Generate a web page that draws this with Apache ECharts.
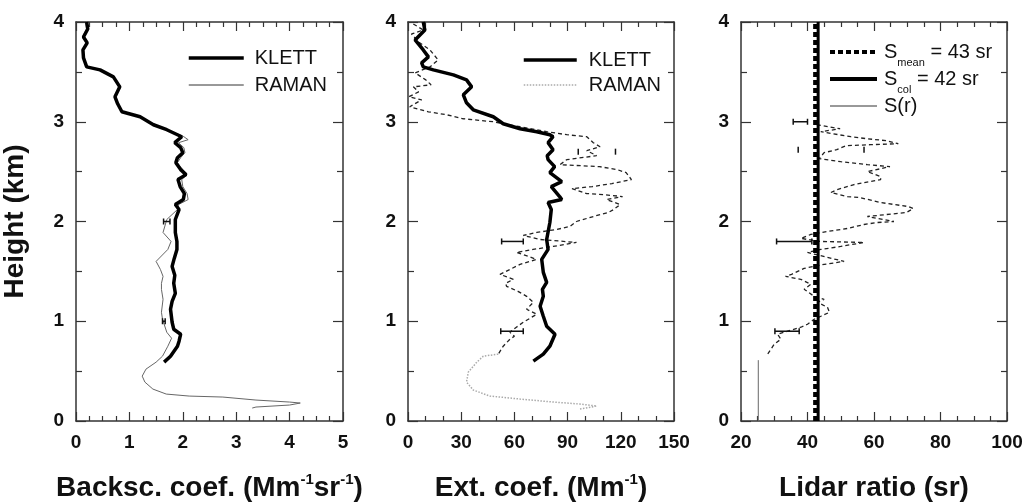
<!DOCTYPE html>
<html><head><meta charset="utf-8">
<script src="https://cdn.jsdelivr.net/npm/echarts@6/dist/echarts.min.js"></script>
<style>html,body{margin:0;padding:0;background:#fff}#c{width:1027px;height:504px}</style>
</head><body><div id="c"></div>
<script>
const FONT = "'Liberation Sans', Arial, Helvetica, sans-serif";

// ---------- Panel 1: backscatter coefficient ----------
const klett1Height = [4.00,3.93,3.85,3.79,3.72,3.64,3.55,3.52,3.45,3.35,3.25,3.18,3.10,3.05,2.97,2.92,2.85,2.79,2.74,2.69,2.64,2.59,2.52,2.47,2.42,2.35,2.28,2.22,2.17,2.12,2.02,1.89,1.80,1.72,1.63,1.55,1.46,1.38,1.28,1.20,1.12,0.99,0.92,0.87,0.80,0.75,0.65,0.59];
const klett1Value  = [0.20,0.22,0.14,0.21,0.13,0.14,0.20,0.45,0.70,0.82,0.73,0.78,0.86,1.20,1.45,1.70,1.98,1.85,1.96,2.00,1.90,1.87,1.96,2.06,1.91,1.95,2.03,2.01,1.86,1.93,1.86,1.86,1.89,1.89,1.84,1.80,1.85,1.83,1.86,1.80,1.77,1.80,1.83,1.96,1.93,1.90,1.77,1.65];
const raman1Height = [4.00,3.93,3.85,3.79,3.72,3.64,3.55,3.52,3.45,3.35,3.25,3.18,3.10,3.05,2.97,2.92,2.85,2.82,2.79,2.74,2.69,2.64,2.59,2.52,2.47,2.42,2.35,2.28,2.22,2.17,2.12,2.02,1.89,1.80,1.72,1.60,1.52,1.45,1.38,1.32,1.22,1.09,1.02,0.89,0.83,0.75,0.65,0.59,0.52,0.45,0.39,0.32,0.27,0.25,0.24,0.21,0.19,0.18,0.16,0.14,0.13];
const raman1Value  = [0.18,0.20,0.12,0.20,0.12,0.13,0.19,0.42,0.68,0.84,0.72,0.77,0.85,1.18,1.44,1.72,2.02,2.10,1.92,2.02,2.04,1.96,1.90,2.00,2.08,1.98,2.00,2.08,2.10,1.92,1.90,1.70,1.63,1.78,1.72,1.50,1.58,1.63,1.60,1.60,1.63,1.60,1.62,1.70,1.79,1.72,1.62,1.50,1.31,1.24,1.29,1.44,1.69,2.12,2.75,3.37,4.00,4.20,4.00,3.37,3.30];
const err1 = [[2.0,1.64,1.76],[1.0,1.62,1.67]]; // [height, low, high]

// ---------- Panel 2: extinction coefficient ----------
const klett2Height = [4.00,3.92,3.82,3.72,3.65,3.59,3.55,3.52,3.47,3.42,3.35,3.27,3.19,3.12,3.05,2.98,2.93,2.90,2.87,2.85,2.79,2.72,2.66,2.62,2.55,2.49,2.40,2.35,2.25,2.22,2.19,2.12,1.99,1.82,1.72,1.62,1.49,1.39,1.32,1.25,1.15,1.05,0.95,0.87,0.75,0.67,0.60];
const klett2Value  = [8.6,9.5,4.0,8.6,11.5,7.7,8.6,14.3,25.6,33.0,35.9,31.2,33.0,36.8,48.1,53.7,63.2,72.6,80.0,81.8,79.0,81.8,78.5,79.0,82.7,80.0,86.7,80.8,85.5,86.7,79.0,80.8,80.0,78.2,79.0,75.4,76.3,78.2,75.8,76.3,74.5,76.3,78.2,82.9,80.0,76.3,70.7];
const raman2Height = [3.98,3.92,3.88,3.80,3.72,3.62,3.55,3.49,3.42,3.37,3.35,3.30,3.25,3.22,3.15,3.10,3.07,3.03,3.00,2.95,2.90,2.87,2.85,2.79,2.75,2.71,2.66,2.62,2.57,2.55,2.52,2.49,2.42,2.38,2.35,2.33,2.28,2.27,2.25,2.22,2.17,2.12,2.09,2.05,2.00,1.95,1.92,1.89,1.86,1.82,1.79,1.75,1.72,1.69,1.65,1.62,1.57,1.52,1.47,1.42,1.38,1.35,1.30,1.25,1.19,1.12,1.07,0.99,0.94,0.89,0.85,0.82,0.75,0.67];
const raman2Value  = [3.0,8.6,2.0,6.0,12.4,17.0,12.4,4.0,10.0,13.0,3.0,6.0,0.5,7.7,1.0,11.5,21.8,31.2,48.1,63.2,78.2,89.5,100.8,104.5,108.3,100.8,106.4,89.5,85.7,108.0,118.0,123.0,126.0,115.0,104.0,92.5,100.8,110.0,121.0,112.0,119.6,116.0,112.9,104.5,95.0,91.3,83.8,72.6,65.0,74.5,95.0,81.8,70.5,61.1,68.0,72.4,63.2,57.5,51.9,59.4,55.0,55.6,62.0,66.9,70.7,66.9,72.6,65.0,61.1,57.5,60.0,57.5,53.7,50.9];
const raman2LowHeight = [0.67,0.65,0.59,0.49,0.39,0.31,0.25,0.22,0.19,0.17,0.15,0.12];
const raman2LowValue  = [50.9,42.5,38.8,34.0,33.0,36.8,46.2,63.2,82.0,97.0,106.4,97.0];
const err2 = [[1.8,52.8,65],[0.9,52.3,65]];
const errCaps2 = [[2.7,96,117]];   // error bar whose bar is hidden by the profile

// ---------- Panel 3: lidar ratio ----------
const sMean = 42.3;   // dashed line
const sCol = 43.2;    // solid line
const srHeight = [2.97,2.95,2.93,2.90,2.85,2.83,2.81,2.78,2.77,2.76,2.72,2.69,2.63,2.60,2.57,2.55,2.50,2.45,2.42,2.37,2.32,2.29,2.25,2.24,2.19,2.15,2.13,2.09,2.07,2.05,2.00,1.99,1.97,1.93,1.90,1.87,1.83,1.80,1.79,1.75,1.72,1.69,1.64,1.60,1.57,1.53,1.47,1.45,1.42,1.37,1.32,1.25,1.22,1.19,1.14,1.09,1.05,1.02,0.97,0.94,0.90,0.87,0.82,0.77,0.72,0.67,0.65];
const srValue  = [42.8,46.3,49.8,44,53,57.8,63.8,67.3,59,51.6,48.8,45,43.5,50,58,64.8,58,62,62,54,48.9,47,52,55.8,62,70.3,71.8,69.7,63.8,58,66,61,57,52,46,41,38,44,57,50,44,40,46,51,45,39,35.2,33.4,38,41,39,42,45,43,46,46.6,44,42,40,38,34,31,32,30,29,28,27.5];
const srLowHeight = [0.0,0.61];
const srLowValue  = [25.2,25.2];
const err3 = [[3.0,35.7,40],[1.8,30.7,41.3],[0.9,30.2,37.5]];
const errCaps3 = [[2.72,37.2,57]];

// ---------- axes ----------
const heightTicks = [0,1,2,3,4];
const xRanges = [
  {min:0, max:5, interval:1, minor:4},
  {min:0, max:150, interval:30, minor:3},
  {min:20, max:100, interval:20, minor:4}
];

const zip = (xs, ys) => xs.map((x, i) => [x, ys[i]]);
const AX = '#333';

const supRich = {sup:{fontSize:15, fontWeight:'bold', fontFamily:FONT, color:'#111', verticalAlign:'top', lineHeight:15, padding:[0,0,0,0]}};
const xNames = [
  'Backsc. coef. (Mm{sup|-1}sr{sup|-1})',
  'Ext. coef. (Mm{sup|-1})',
  'Lidar ratio (sr)'
];

const grids = [
  {left:76, right:684, top:22, bottom:83},
  {left:408, right:353, top:22, bottom:83},
  {left:741, right:20, top:22, bottom:83}
].map(g => Object.assign({outerBoundsMode:'none', containLabel:false}, g));

function xAxisDef(i, top) {
  const r = xRanges[i];
  const a = {
    type:'value', gridIndex:i, position: top ? 'top' : 'bottom',
    min:r.min, max:r.max, interval:r.interval,
    axisLine:{show:true, onZero:false, lineStyle:{color:AX, width:1.5}},
    axisTick:{show:true, inside:true, length:9, lineStyle:{color:AX, width:1.2}},
    minorTick:{show:true, splitNumber:r.minor, length:5, lineStyle:{color:AX, width:1.2}},
    splitLine:{show:false}, minorSplitLine:{show:false},
    axisLabel:{show:!top, fontFamily:FONT, fontWeight:'bold', fontSize:19, color:'#111', margin:12}
  };
  if (!top) {
    a.name = xNames[i];
    a.nameLocation = 'middle';
    a.nameGap = 51;
    a.nameTextStyle = {fontFamily:FONT, fontWeight:'bold', fontSize:28, color:'#111', lineHeight:32, rich:supRich};
  }
  return a;
}
function yAxisDef(i, right) {
  const a = {
    type:'value', gridIndex:i, position: right ? 'right' : 'left',
    min:heightTicks[0], max:heightTicks[heightTicks.length-1], interval:1,
    axisLine:{show:true, onZero:false, lineStyle:{color:AX, width:1.5}},
    axisTick:{show:true, inside:true, length:10, lineStyle:{color:AX, width:1.2}},
    minorTick:{show:true, splitNumber:2, length:6, lineStyle:{color:AX, width:1.2}},
    splitLine:{show:false}, minorSplitLine:{show:false},
    axisLabel:{show:!right, fontFamily:FONT, fontWeight:'bold', fontSize:19, color:'#111', margin:12}
  };
  if (!right && i === 0) {
    a.name = 'Height (km)';
    a.nameLocation = 'middle';
    a.nameGap = 47;
    a.nameTextStyle = {fontFamily:FONT, fontWeight:'bold', fontSize:28, color:'#111'};
  }
  return a;
}

function errRender(withBar) {
  return function (params, api) {
    const h = api.value(0), lo = api.value(1), hi = api.value(2);
    const a = api.coord([lo, h]), b = api.coord([hi, h]);
    const c = 3, st = {stroke:'#111', lineWidth:1.5};
    const kids = [
      {type:'line', shape:{x1:a[0], y1:a[1]-c, x2:a[0], y2:a[1]+c}, style:st},
      {type:'line', shape:{x1:b[0], y1:b[1]-c, x2:b[0], y2:b[1]+c}, style:st}
    ];
    if (withBar) kids.push({type:'line', shape:{x1:a[0], y1:a[1], x2:b[0], y2:b[1]}, style:st});
    return {type:'group', children:kids};
  };
}
function errSeries(i, data, withBar) {
  return {type:'custom', xAxisIndex:i, yAxisIndex:i, data:data, renderItem:errRender(withBar),
    encode:{x:[1,2], y:0}, z:4, silent:true};
}
function lineSeries(name, i, data, ls, z) {
  return {type:'line', name:name, xAxisIndex:i, yAxisIndex:i, data:data, symbol:'none',
    lineStyle:ls, itemStyle:{color:ls.color, opacity:0}, z:z || 2, silent:true, animation:false, clip:true};
}

const series = [
  lineSeries('RAMAN', 0, zip(raman1Value, raman1Height), {color:'#666', width:1}, 2),
  lineSeries('KLETT', 0, zip(klett1Value, klett1Height), {color:'#000', width:3.5}, 3),
  errSeries(0, err1, true),

  lineSeries('RAMAN2', 1, zip(raman2LowValue, raman2LowHeight), {color:'#aaa', width:1.5, type:'dotted'}, 2),
  lineSeries('RAMAN2u', 1, zip(raman2Value, raman2Height), {color:'#222', width:1.3, type:[4,3]}, 2),
  lineSeries('KLETT', 1, zip(klett2Value, klett2Height), {color:'#000', width:3.5}, 3),
  errSeries(1, err2, true),
  errSeries(1, errCaps2, false),

  lineSeries('Smean', 2, [[sMean, heightTicks[0]], [sMean, heightTicks[4]]], {color:'#000', width:4, type:[5,3]}, 3),
  lineSeries('Scol', 2, [[sCol, heightTicks[0]], [sCol, heightTicks[4]]], {color:'#000', width:3}, 3),
  lineSeries('S(r)', 2, zip(srValue, srHeight), {color:'#222', width:1.3, type:[4,3]}, 2),
  lineSeries('S(r)low', 2, zip(srLowValue, srLowHeight), {color:'#666', width:1}, 2),
  errSeries(2, err3, true),
  errSeries(2, errCaps3, false)
];

const legTxt = {fontFamily:FONT, fontSize:20, color:'#111', lineHeight:20};
const subRich = {sub:{fontSize:11, fontFamily:FONT, color:'#111', verticalAlign:'top', lineHeight:11, padding:[16,0,0,0]}};
const noSym = {opacity:0};

const legends = [
  {left:187, top:48, padding:0, orient:'vertical', itemWidth:55, itemHeight:14, itemGap:7, selectedMode:false,
   itemStyle:noSym,
   textStyle:Object.assign({padding:[0,0,0,6]}, legTxt),
   data:[{name:'KLETT', lineStyle:{width:3.5}}, {name:'RAMAN', lineStyle:{width:1, color:'#333'}}]},
  {left:522, top:50, padding:0, orient:'vertical', itemWidth:53, itemHeight:14, itemGap:5, selectedMode:false,
   itemStyle:noSym,
   textStyle:Object.assign({padding:[0,0,0,7]}, legTxt),
   formatter: n => n === 'RAMAN2' ? 'RAMAN' : n,
   data:[{name:'KLETT', lineStyle:{width:3.5}}, {name:'RAMAN2', lineStyle:{width:1.5}}]},
  {left:828, top:41, padding:0, orient:'vertical', itemWidth:47, itemHeight:14, itemGap:0, selectedMode:false,
   itemStyle:noSym,
   textStyle:{fontFamily:FONT, fontSize:20, color:'#111', lineHeight:22, padding:[0,0,0,2], rich:subRich},
   formatter: n => n === 'Smean' ? 'S{sub|mean} = 43 sr' : (n === 'Scol' ? 'S{sub|col} = 42 sr' : 'S(r)'),
   data:[{name:'Smean', lineStyle:{width:4, type:[5,3]}}, {name:'Scol', lineStyle:{width:4}}, {name:'S(r)', lineStyle:{width:1, type:'solid', color:'#333'}}]}
];

const chart = echarts.init(document.getElementById('c'), null, {renderer:'canvas'});
chart.setOption({
  animation:false,
  backgroundColor:'#fff',
  grid:grids,
  xAxis:[xAxisDef(0,false), xAxisDef(1,false), xAxisDef(2,false), xAxisDef(0,true), xAxisDef(1,true), xAxisDef(2,true)],
  yAxis:[yAxisDef(0,false), yAxisDef(1,false), yAxisDef(2,false), yAxisDef(0,true), yAxisDef(1,true), yAxisDef(2,true)],
  legend:legends,
  series:series
});
</script></body></html>
